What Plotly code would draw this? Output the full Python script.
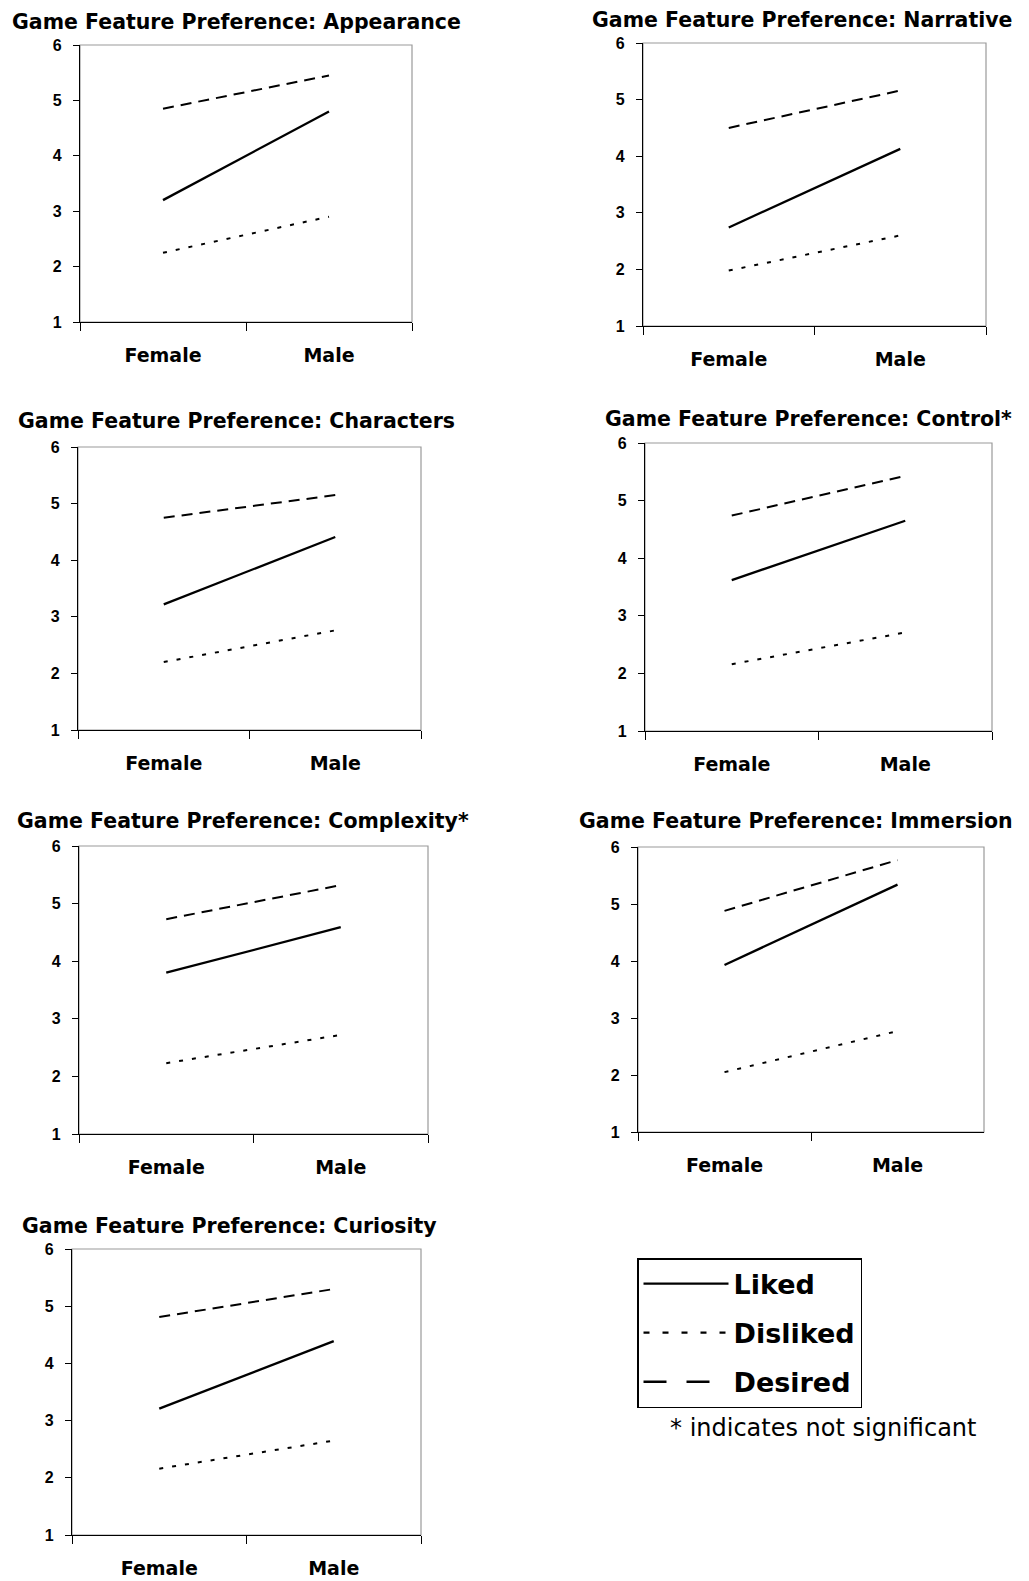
import plotly.graph_objects as go

W, H = 1029, 1581

groups = ["Female", "Male"]
features = ["Appearance", "Narrative", "Characters", "Control*", "Complexity*", "Immersion", "Curiosity"]

liked = {
    "Appearance": [3.20, 4.80],
    "Narrative": [2.74, 4.13],
    "Characters": [3.22, 4.41],
    "Control*": [3.62, 4.65],
    "Complexity*": [3.80, 4.59],
    "Immersion": [3.93, 5.34],
    "Curiosity": [3.21, 4.39],
}
disliked = {
    "Appearance": [2.25, 2.90],
    "Narrative": [1.98, 2.60],
    "Characters": [2.20, 2.76],
    "Control*": [2.16, 2.71],
    "Complexity*": [2.23, 2.72],
    "Immersion": [2.05, 2.77],
    "Curiosity": [2.16, 2.65],
}
desired = {
    "Appearance": [4.85, 5.45],
    "Narrative": [4.50, 5.16],
    "Characters": [4.75, 5.15],
    "Control*": [4.74, 5.43],
    "Complexity*": [4.73, 5.32],
    "Immersion": [4.88, 5.77],
    "Curiosity": [4.81, 5.30],
}
y_ticks = [1, 2, 3, 4, 5, 6]

# panel boxes in pixels: left, right, top, bottom, title center x, title center y
boxes = {
    "Appearance": (80, 412, 45, 322, 236, 22),
    "Narrative": (643, 986, 43, 326, 802, 20),
    "Characters": (78, 421, 447, 730, 236, 421),
    "Control*": (645, 992, 443, 731, 808, 419),
    "Complexity*": (79, 428, 846, 1134, 243, 821),
    "Immersion": (638, 984, 847, 1132, 796, 821),
    "Curiosity": (72, 421, 1249, 1535, 229, 1226),
}


def py(y):
    return 1 - y / H


FONT = "DejaVu Sans, Verdana, sans-serif"
FONT_NUM = "Liberation Sans, Arial, sans-serif"
styles = [
    ("Liked", liked, dict(color="black", width=2.3, dash="solid"), dict(color="black", width=2.3, dash="solid")),
    ("Disliked", disliked, dict(color="black", width=2, dash="4px,9px"), dict(color="black", width=2.2, dash="6px,13px")),
    ("Desired", desired, dict(color="black", width=2, dash="11px,7px"), dict(color="black", width=2.3, dash="23px,20px")),
]

fig = go.Figure()
layout = {}
annotations = []
shapes = []
for i, feat in enumerate(features):
    n = i + 1
    xa = "xaxis" if n == 1 else f"xaxis{n}"
    ya = "yaxis" if n == 1 else f"yaxis{n}"
    xr = "x" if n == 1 else f"x{n}"
    yr = "y" if n == 1 else f"y{n}"
    L, R, T, B, tx, ty = boxes[feat]
    layout[xa] = dict(
        domain=[L / W, R / W], anchor=yr, type="category",
        categoryorder="array", categoryarray=groups,
        range=[-0.5, 1.5], tickson="boundaries", ticks="outside", ticklen=8,
        tickcolor="black", tickwidth=1.2, showline=True, linecolor="black", linewidth=1.2,
        showgrid=False, zeroline=False, ticklabelstandoff=16, automargin=False,
        tickfont=dict(family=FONT, size=19, color="black", weight="bold"),
        fixedrange=True,
    )
    layout[ya] = dict(
        domain=[py(B), py(T)], anchor=xr, range=[1, 6], tickvals=y_ticks,
        ticks="outside", ticklen=6, tickcolor="black", tickwidth=1.2,
        showline=True, linecolor="black", linewidth=1.2, showgrid=False, zeroline=False,
        ticklabelstandoff=8, automargin=False,
        tickfont=dict(family=FONT_NUM, size=16, color="black", weight="bold"),
        fixedrange=True,
    )
    shapes.append(dict(type="rect", xref=f"{xr} domain", yref=f"{yr} domain",
                       x0=0, x1=1, y0=0, y1=1, line=dict(color="#9a9a9a", width=1.2),
                       layer="below"))
    annotations.append(dict(
        text=f"Game Feature Preference: {feat}", x=tx / W, y=py(ty),
        xref="paper", yref="paper", xanchor="center", yanchor="middle", showarrow=False,
        font=dict(family=FONT, size=20.5, color="black", weight="bold"),
    ))
    for name, data, ln, _ in styles:
        fig.add_trace(go.Scatter(
            x=groups, y=data[feat], mode="lines", name=name, line=ln,
            xaxis=xr, yaxis=yr, showlegend=False,
        ))

# legend entries (legend box uses longer dash patterns, as in the original key)
for name, _, _, lg in styles:
    fig.add_trace(go.Scatter(
        x=[None], y=[None], mode="lines", name=name, line=lg,
        xaxis="x", yaxis="y", showlegend=True, legendgroup=name,
    ))

annotations.append(dict(
    text="* indicates not significant", x=823 / W, y=py(1428), xref="paper", yref="paper",
    xanchor="center", yanchor="middle", showarrow=False,
    font=dict(family=FONT, size=24, color="black"),
))

fig.update_layout(
    **layout,
    width=W, height=H, margin=dict(l=0, r=0, t=0, b=0, pad=0, autoexpand=False),
    paper_bgcolor="white", plot_bgcolor="white",
    annotations=annotations, shapes=shapes,
    showlegend=True,
    legend=dict(
        x=637 / W, y=py(1258), xanchor="left", yanchor="top",
        bordercolor="black", borderwidth=1.5, bgcolor="white",
        font=dict(family=FONT, size=27, color="black", weight="bold"),
        itemwidth=85, tracegroupgap=11, traceorder="grouped",
    ),
)

post = (
    "document.documentElement.style.margin='0';"
    "document.documentElement.style.padding='0';"
    "document.body.style.margin='0';"
    "document.body.style.padding='0';"
    "document.body.style.overflow='hidden';"
)
fig.write_html("out.html", post_script=post, config={"displayModeBar": False})
